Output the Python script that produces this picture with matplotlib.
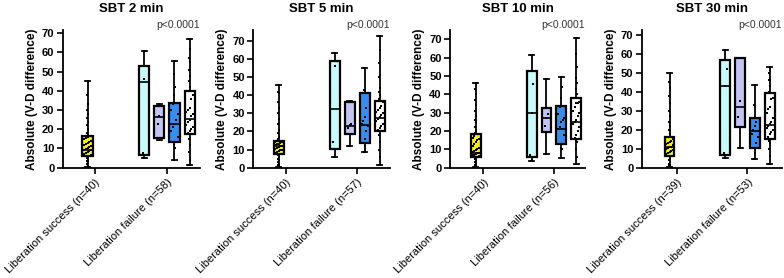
#!/usr/bin/env python3
"""
plot.py

Absolute V-D difference by SBT duration, liberation success vs failure.
Four box plot panels (2, 5, 10, 30 min) with the individual points on top.
"""

import matplotlib
matplotlib.use('Agg')
import matplotlib.pyplot as plt

plt.rcParams['font.family'] = ['Liberation Sans', 'DejaVu Sans']

# --- DATA ---
titles = ["SBT 2 min", "SBT 5 min", "SBT 10 min", "SBT 30 min"]
success_n = [40, 40, 40, 39]
failure_n = [58, 57, 56, 53]
p_text = "p<0.0001"
y_tops = [71.7, 76, 75, 72.6]

# box order: success (yellow), then failure sub-groups cyan, lavender, blue, white
box_colors = ['#F5F000', '#C8FAFA', '#C4C4F2', '#3A8EEA', '#FFFFFF']

# (whislo, q1, median, q3, whishi) per box
stats_2min = [(0.5, 6.1, 9.0, 16.5, 45.2), (5.2, 6.8, 44.5, 53.0, 61.0),
              (14.5, 15.3, 26.6, 32.3, 33.0), (4.0, 13.4, 22.6, 33.5, 55.7),
              (1.4, 17.5, 25.2, 40.0, 67.0)]
stats_5min = [(0.5, 7.6, 12.0, 14.9, 45.7), (6.1, 10.2, 32.3, 59.0, 63.2),
              (12.0, 18.8, 23.0, 36.5, 36.8), (8.5, 13.5, 23.6, 41.1, 55.3),
              (1.5, 20.3, 27.3, 37.0, 72.8)]
stats_10min = [(0.5, 5.7, 8.2, 18.4, 46.3), (3.7, 6.0, 30.0, 52.7, 61.3),
               (7.5, 19.5, 27.3, 32.4, 48.4), (5.5, 12.9, 20.9, 33.6, 49.6),
               (2.0, 15.5, 25.1, 38.2, 70.5)]
stats_30min = [(0.5, 6.4, 10.8, 16.1, 50.0), (5.0, 6.7, 43.0, 56.7, 62.0),
               (10.6, 21.2, 31.8, 57.6, 58.0), (4.5, 10.3, 19.6, 26.0, 43.8),
               (1.8, 15.0, 22.6, 39.4, 53.2)]

# individual points per box (approximate readings)
pts_2min = [
    [0.5, 1, 2, 3, 3.5, 4, 5, 5.5, 6, 6.5, 7, 7.5, 8, 8.5, 9, 9, 9.5, 10, 11, 11.5,
     12, 12.5, 13, 13.5, 14, 15, 15.5, 16, 16.5, 17, 18, 20, 22, 24, 26, 28, 30, 33, 38, 45.2],
    [5.2, 7.5, 46, 61],
    [14.5, 23, 27, 32.3, 33],
    [4, 10, 12, 13.4, 16, 19, 21, 23, 25, 28, 30, 33, 38, 42, 49, 55.7],
    [1.4, 4, 8, 12, 15, 17.5, 18, 19, 20, 21, 22, 24, 25, 27, 28, 29, 30, 31, 36,
     38, 40, 42, 45, 48, 51, 55, 57, 62, 67],
]
pts_5min = [
    [0.5, 1, 1.5, 2, 3, 4, 5, 6, 7, 7.6, 8, 8.5, 9, 9.5, 10, 10.5, 11, 11.5, 12, 12,
     12.5, 13, 13, 13.5, 14, 14, 14.5, 15, 16, 17, 19, 21, 24, 27, 30, 33, 36, 41, 42, 45.7],
    [6.1, 14, 56, 63.2],
    [12, 22, 23.5, 24, 36.5],
    [8.5, 12, 16, 20, 23, 24, 26, 28, 33, 42, 43, 43, 55.3],
    [1.5, 6, 10, 14, 18, 20.3, 21, 22, 23, 24, 26, 27, 28, 29, 30, 31, 32, 33, 34, 36,
     38, 40, 42, 44, 50, 51, 58, 65, 72.8],
]
pts_10min = [
    [0.5, 1, 1.5, 2, 3, 4, 5, 5.5, 6, 6.5, 7, 7, 7.5, 8, 8, 8.5, 9, 9.5, 10, 11,
     12, 13, 14, 15, 15.5, 16, 17, 18.4, 19, 20, 22, 25, 26, 28, 31, 34, 37, 40, 43, 46.3],
    [3.7, 7, 30, 45.5, 61.3],
    [7.5, 22.5, 27.3, 29.5, 32.4],
    [5.5, 10, 11, 12.9, 18, 21, 22, 25, 26, 27, 29, 33, 38, 44, 49.6],
    [2, 6, 10, 14, 15, 15.5, 16, 18, 20, 22, 24, 25, 26, 28, 30, 31, 33, 35, 35,
     36, 38, 40, 43, 46, 49, 55, 62, 70.5],
]
pts_30min = [
    [0.5, 0.8, 1, 1.5, 2, 3, 4, 5, 6, 6.4, 7, 8, 8.5, 9, 9.5, 10, 10.5, 11, 11, 12,
     12.5, 13, 13.5, 14, 15, 16, 16.1, 18, 20, 22, 24, 27, 30, 34, 38, 42, 45, 50],
    [5, 7.5, 43, 52.2, 62],
    [10.6, 26.5, 35, 57.6, 58],
    [4.5, 8, 10.3, 13, 16, 18, 20, 22, 24, 26, 33, 43.8],
    [1.8, 6, 10, 13, 14, 15, 16, 18, 19, 20, 21, 22, 23, 24, 26, 29, 31, 32, 36,
     37, 40, 43, 46, 46, 50, 53.2],
]

all_stats = [stats_2min, stats_5min, stats_10min, stats_30min]
all_pts = [pts_2min, pts_5min, pts_10min, pts_30min]

# --- LAYOUT (pixel measured) ---
W, H = 784, 278
ax_px = [(62.7, 200), (253.3, 390), (450, 585), (641.7, 782)]
xlims = [(-0.45, 1.46), (-0.46, 1.46), (-0.47, 1.44), (-0.50, 1.49)]
y0_px, y1_px = 167.7, 30
slot = 0.21
box_pos = [-slot / 2, 1 - 1.5 * slot, 1 - 0.5 * slot, 1 + 0.5 * slot, 1 + 1.5 * slot]
box_w = 0.14


def spread(values, q1, q3, width):
    # small deterministic side-by-side offsets so points inside the box do not overlap
    offs = []
    k = 0
    for v in values:
        if q1 <= v <= q3:
            offs.append(((k % 5) - 2) * width / 5)
        else:
            offs.append(((k % 2) * 2 - 1) * width / 14)
        k += 1
    return offs


fig = plt.figure(figsize=(W / 100, H / 100), dpi=100)

for i in range(4):
    left, right = ax_px[i]
    ax = fig.add_axes([left / W, 1 - y0_px / H, (right - left) / W, (y0_px - y1_px) / H])

    bstats = []
    for s in all_stats[i]:
        bstats.append({'whislo': s[0], 'q1': s[1], 'med': s[2], 'q3': s[3],
                       'whishi': s[4], 'fliers': []})
    bp = ax.bxp(bstats, positions=box_pos, widths=box_w, patch_artist=True,
                showfliers=False,
                boxprops=dict(edgecolor='black', linewidth=1.6),
                medianprops=dict(color='black', linewidth=1.2),
                whiskerprops=dict(color='black', linewidth=1.3),
                capprops=dict(color='black', linewidth=1.3),
                capwidths=box_w * 0.5)
    for patch, c in zip(bp['boxes'], box_colors):
        patch.set_facecolor(c)
    for art in bp['whiskers'] + bp['caps'] + bp['boxes'] + bp['medians']:
        art.set_clip_on(False)

    for j, vals in enumerate(all_pts[i]):
        s = all_stats[i][j]
        offs = spread(vals, s[1], s[3], box_w * 0.8)
        xs = [box_pos[j] + o for o in offs]
        ax.scatter(xs, vals, s=2.5, marker='s', color='black', linewidths=0,
                   zorder=5, clip_on=False)

    ax.set_xlim(*xlims[i])
    ax.set_ylim(0, y_tops[i])
    ax.set_yticks(range(0, 71, 10))
    ax.set_xticks([0, 1])
    ax.set_xticklabels([f"Liberation success (n={success_n[i]})",
                        f"Liberation failure (n={failure_n[i]})"],
                       rotation=45, ha='right', rotation_mode='anchor', fontsize=8)
    for lab in ax.get_yticklabels():
        lab.set_fontweight('bold')
        lab.set_fontsize(8)
    ax.tick_params(axis='both', direction='out', length=4, width=1.2, pad=2)
    ax.tick_params(axis='x', pad=3)
    for sp in ['top', 'right']:
        ax.spines[sp].set_visible(False)
    for sp in ['left', 'bottom']:
        ax.spines[sp].set_linewidth(1.3)
    ax.set_ylabel("Absolute (V-D difference)", fontsize=8.5, fontweight='bold', labelpad=3)
    ax.set_title(titles[i], fontsize=9.5, fontweight='bold', pad=13)
    ax.text(1.0, 1.0, p_text, transform=ax.transAxes, ha='right', va='bottom',
            fontsize=7.5, color='#333333')

fig.savefig('out.png', dpi=100)
